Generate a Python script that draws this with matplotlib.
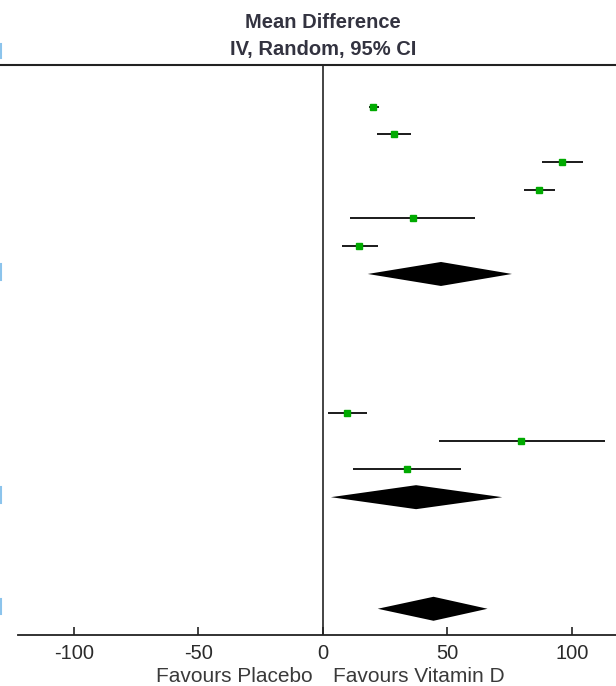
import matplotlib
matplotlib.use("Agg")
import matplotlib.pyplot as plt
from matplotlib.transforms import blended_transform_factory
from matplotlib.lines import Line2D

plt.rcParams['font.family'] = ['Liberation Sans', 'DejaVu Sans']

# subgroup 1: mean difference and 95% CI per study
g1_md = [20.2, 28.5, 96.2, 87.0, 36.1, 14.4]
g1_lo = [18.4, 21.7, 88.0, 81.0, 11.1, 7.6]
g1_hi = [22.8, 35.3, 104.5, 93.3, 61.2, 22.2]
g1_sub = (47.5, 18.1, 76.0)

# subgroup 2
g2_md = [9.6, 79.8, 34.0]
g2_lo = [2.0, 46.7, 12.1]
g2_hi = [17.9, 113.4, 55.7]
g2_sub = (37.5, 3.3, 72.1)

# overall pooled estimate
total = (44.5, 22.1, 66.2)

xticks = [-100, -50, 0, 50, 100]
title_lines = ["Mean Difference", "IV, Random, 95% CI"]
favours_left = "Favours Placebo"
favours_right = "Favours Vitamin D"

W, H = 616, 686
fig = plt.figure(figsize=(W / 100, H / 100), dpi=100)
ax = fig.add_axes([0, (H - 635) / H, 1, (635 - 65) / H])

px_per_unit = 2.49
x0 = 322.7
ax.set_xlim(-x0 / px_per_unit, (W - x0) / px_per_unit)
ax.set_ylim(18.94, -1.49)

green = '#00aa00'
text_col = '#2b2b2b'


def draw_group(start, md, lo, hi, sub):
    for i, (m, l, h) in enumerate(zip(md, lo, hi)):
        r = start + i
        ax.hlines(r, l, h, color='#1a1a1a', lw=1.4, zorder=2)
        ax.plot(m, r, 's', color=green, mec=green, ms=5, zorder=3)
    if sub is not None:
        draw_diamond(start + len(md), sub)


def draw_diamond(r, est, hh=0.43):
    m, l, h = est
    ax.fill([l, m, h, m], [r, r - hh, r, r + hh], color='black', lw=0, zorder=3)


draw_group(0, g1_md, g1_lo, g1_hi, g1_sub)
draw_group(11, g2_md, g2_lo, g2_hi, g2_sub)
draw_diamond(18, total)

ax.axvline(0, color='#111111', lw=1.1, zorder=1)

for s in ['left', 'right']:
    ax.spines[s].set_visible(False)
ax.spines['top'].set_linewidth(1.5)
ax.spines['top'].set_color('#222222')
ax.spines['bottom'].set_linewidth(1.3)
ax.spines['bottom'].set_color('#222222')
ax.spines['bottom'].set_bounds(-(x0 - 18.3) / px_per_unit, (W - x0) / px_per_unit)

ax.set_yticks([])
ax.set_xticks(xticks)
ax.set_xticklabels([str(t) for t in xticks])
ax.tick_params(axis='x', direction='in', length=6, width=1.2, color='#222222',
               pad=6.5, labelsize=14.5, labelcolor=text_col)

tr = blended_transform_factory(ax.transData, fig.transFigure)
ax.text(0, 1 - 23 / H, title_lines[0], transform=tr, ha='center', va='center',
        fontsize=14.5, fontweight='bold', color='#333340')
ax.text(0, 1 - 50 / H, title_lines[1], transform=tr, ha='center', va='center',
        fontsize=14.5, fontweight='bold', color='#333340')
ax.text(-4, 1 - 677 / H, favours_left, transform=tr, ha='right', va='center',
        fontsize=15, color='#3a3a3a')
ax.text(4, 1 - 677 / H, favours_right, transform=tr, ha='left', va='center',
        fontsize=15, color='#3a3a3a')

# cut-off blue labels at the left edge
for y1, y2 in [(44, 58), (264, 280), (487, 503), (599, 614)]:
    fig.add_artist(Line2D([1 / W, 1 / W], [1 - y1 / H, 1 - y2 / H],
                          transform=fig.transFigure, color='#8cc4ec', lw=1.5))

fig.savefig("out.png", dpi=100)
